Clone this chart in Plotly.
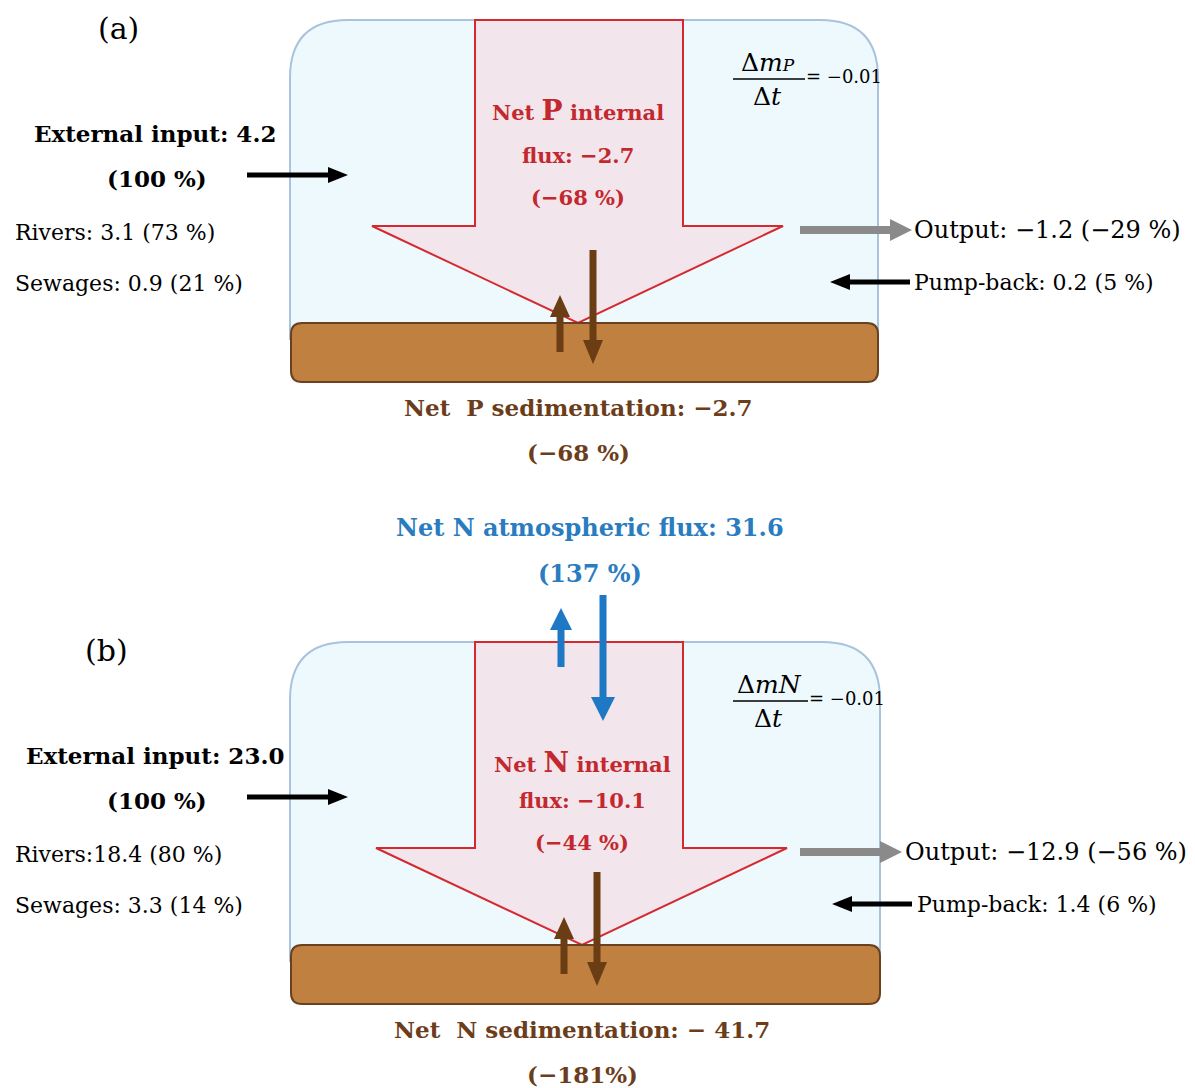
import math
import plotly.graph_objects as go

# ---------------- data ----------------
panels = ["(a)", "(b)"]
nutrients = ["P", "N"]
external_input = [4.2, 23.0]
external_pct = [100, 100]
rivers = [3.1, 18.4]
rivers_pct = [73, 80]
sewages = [0.9, 3.3]
sewages_pct = [21, 14]
output_flux = [-1.2, -12.9]
output_pct = [-29, -56]
pumpback = [0.2, 1.4]
pumpback_pct = [5, 6]
internal_flux = [-2.7, -10.1]
internal_pct = [-68, -44]
sedimentation = [-2.7, -41.7]
sedimentation_pct = [-68, -181]
storage_change = [-0.01, -0.01]
atmospheric_flux = [None, 31.6]
atmospheric_pct = [None, 137]

# ---------------- styles / layout ----------------
FONT = "DejaVu Serif"
WATER_FILL = "#eef9fd"
WATER_LINE = "#a9c3dc"
ARROW_FILL = "#f2e5eb"
ARROW_LINE = "#d42a2f"
RED_TXT = "#c3282e"
SED_FILL = "#c0803f"
SED_LINE = "#6a4120"
BROWN = "#6a3d14"
BROWN_TXT = "#6b3d1b"
BLUE = "#1f78c4"
BLUE_TXT = "#2a7cc0"
GREY = "#8a8a8a"

DY = [0, 622]          # vertical offset of each panel
TIP_X = [578, 582]
BOX_R = [878, 880]
OUT_ARROW = [(800, 912), (800, 902)]
OUT_TXT_X = [912, 903]
PUMP_ARROW = [(910, 830), (912, 832)]
PUMP_TXT_X = [912, 915]
FRAC_LINE = [(733, 805), (733, 808)]

RIVERS_SEP = [": ", ":"]
SED_MINUS_SEP = ["", " "]
SED_PCT_SEP = [" ", ""]

S_BOLD = 23      # bold headings
S_ATM = 24
S_SMALL = 22     # rivers / sewages
S_PUMP = 22
S_OUT = 24
S_RED = 21
S_RED_BIG = 28


def fmt(v, d=1, sep=""):
    return ("−" + sep if v < 0 else "") + f"{abs(v):.{d}f}"


def fpct(p):
    return ("−" if p < 0 else "") + str(abs(p))


def arrow_path(x0, y0, x1, y1, sw, hw, hl):
    dx, dy = x1 - x0, y1 - y0
    L = math.hypot(dx, dy)
    ux, uy = dx / L, dy / L
    px, py = -uy, ux
    bx, by = x1 - ux * hl, y1 - uy * hl
    pts = [
        (x0 + px * sw / 2, y0 + py * sw / 2),
        (bx + px * sw / 2, by + py * sw / 2),
        (bx + px * hw / 2, by + py * hw / 2),
        (x1, y1),
        (bx - px * hw / 2, by - py * hw / 2),
        (bx - px * sw / 2, by - py * sw / 2),
        (x0 - px * sw / 2, y0 - py * sw / 2),
    ]
    return "M " + " L ".join(f"{x:.1f},{y:.1f}" for x, y in pts) + " Z"


def round_top_box(x0, y0, x1, y1, r):
    return (f"M {x0},{y1} L {x0},{y0 + r} Q {x0},{y0} {x0 + r},{y0} "
            f"L {x1 - r},{y0} Q {x1},{y0} {x1},{y0 + r} L {x1},{y1}")


def round_rect(x0, y0, x1, y1, r):
    return (f"M {x0 + r},{y0} L {x1 - r},{y0} Q {x1},{y0} {x1},{y0 + r} "
            f"L {x1},{y1 - r} Q {x1},{y1} {x1 - r},{y1} L {x0 + r},{y1} "
            f"Q {x0},{y1} {x0},{y1 - r} L {x0},{y0 + r} Q {x0},{y0} {x0 + r},{y0} Z")


fig = go.Figure()
fig.add_trace(go.Scatter(x=[10, 1190], y=[10, 1080], mode="markers",
                         marker=dict(opacity=0), hoverinfo="skip"))

shapes = []
annotations = []


def ann(x, y, text, size, color="black", xanchor="center", yanchor="middle"):
    annotations.append(dict(x=x, y=y, xref="x", yref="y", text=text, showarrow=False,
                            xanchor=xanchor, yanchor=yanchor,
                            font=dict(family=FONT, size=size, color=color)))


for i in range(2):
    o = DY[i]
    n = nutrients[i]
    tx = TIP_X[i]
    # water column
    shapes.append(dict(type="path", path=round_top_box(290, 20 + o, BOX_R[i], 340 + o, 58),
                       fillcolor=WATER_FILL, line=dict(color=WATER_LINE, width=2)))
    # big internal flux arrow
    big = (f"M 475,{20 + o} L 683,{20 + o} L 683,{226 + o} L {tx + 205},{226 + o} "
           f"L {tx},{323 + o} L {tx - 206},{226 + o} L 475,{226 + o} Z")
    shapes.append(dict(type="path", path=big, fillcolor=ARROW_FILL,
                       line=dict(color=ARROW_LINE, width=2)))
    # sediment layer
    shapes.append(dict(type="path", path=round_rect(291, 323 + o, BOX_R[i], 382 + o, 11),
                       fillcolor=SED_FILL, line=dict(color=SED_LINE, width=2)))
    # sediment exchange arrows
    shapes.append(dict(type="path", path=arrow_path(tx - 18, 352 + o, tx - 18, 295 + o, 7, 20, 22),
                       fillcolor=BROWN, line=dict(width=0)))
    shapes.append(dict(type="path", path=arrow_path(tx + 15, 250 + o, tx + 15, 364 + o, 7, 20, 24),
                       fillcolor=BROWN, line=dict(width=0)))
    # external input arrow
    shapes.append(dict(type="path", path=arrow_path(247, 175 + o, 348, 175 + o, 5, 16, 20),
                       fillcolor="black", line=dict(width=0)))
    # output arrow
    ox0, ox1 = OUT_ARROW[i]
    shapes.append(dict(type="path", path=arrow_path(ox0, 230 + o, ox1, 230 + o, 8, 22, 22),
                       fillcolor=GREY, line=dict(width=0)))
    # pump-back arrow
    px0, px1 = PUMP_ARROW[i]
    shapes.append(dict(type="path", path=arrow_path(px0, 282 + o, px1, 282 + o, 5, 16, 20),
                       fillcolor="black", line=dict(width=0)))
    # fraction line
    fx0, fx1 = FRAC_LINE[i]
    shapes.append(dict(type="line", x0=fx0, x1=fx1, y0=79 + o, y1=79 + o,
                       line=dict(color="black", width=1.5)))

    # ---- texts ----
    ann(118 - 12 * i, 28 + o, panels[i], 30)
    ann(155, 133 + o, f"<b>External input: {fmt(external_input[i])}</b>", S_BOLD)
    ann(157, 178 + o, f"<b>({external_pct[i]} %)</b>", S_BOLD)
    ann(13, 232 + o, f"Rivers{RIVERS_SEP[i]}{fmt(rivers[i])} ({rivers_pct[i]} %)", S_SMALL, xanchor="left")
    ann(13, 283 + o, f"Sewages: {fmt(sewages[i])} ({sewages_pct[i]} %)", S_SMALL, xanchor="left")
    ann(OUT_TXT_X[i], 230 + o, f"Output: {fmt(output_flux[i])} ({fpct(output_pct[i])} %)", S_OUT, xanchor="left")
    ann(PUMP_TXT_X[i], 282 + o, f"Pump-back: {fmt(pumpback[i])} ({pumpback_pct[i]} %)", S_PUMP, xanchor="left")
    ann(tx, 110 + o + (0 if i == 0 else 30),
        f"<b>Net <span style='font-size:{S_RED_BIG}px'>{n}</span> internal</b>", S_RED, RED_TXT)
    ann(tx, 155 + o + (0 if i == 0 else 23), f"<b>flux: {fmt(internal_flux[i])}</b>", S_RED, RED_TXT)
    ann(tx, 197 + o + (0 if i == 0 else 23), f"<b>({fpct(internal_pct[i])} %)</b>", S_RED, RED_TXT)
    ann(tx, 407 + o, f"<b>Net  {n} sedimentation: {fmt(sedimentation[i], sep=SED_MINUS_SEP[i])}</b>",
        S_BOLD, BROWN_TXT)
    ann(tx, 452 + o, f"<b>({fpct(sedimentation_pct[i])}{SED_PCT_SEP[i]}%)</b>", S_BOLD, BROWN_TXT)
    # storage change fraction
    num = (f"Δ<i>m</i><span style='font-size:17px'><i>{n}</i></span>" if i == 0
           else "Δ<i>mN</i>")
    ann((fx0 + fx1) / 2 - 1, 62 + o, num, 25)
    ann((fx0 + fx1) / 2 - 2, 96 + o, "Δ<i>t</i>", 25)
    ann(fx1 - 1, 76 + o, f"= {fmt(storage_change[i], d=2)}", 18, xanchor="left")

    if atmospheric_flux[i] is not None:
        ann(590, 527 + o - 622, f"<b>Net N atmospheric flux: {fmt(atmospheric_flux[i])}</b>", S_ATM, BLUE_TXT)
        ann(590, 573 + o - 622, f"<b>({atmospheric_pct[i]} %)</b>", S_ATM, BLUE_TXT)
        shapes.append(dict(type="path", path=arrow_path(561, 667, 561, 608, 7, 22, 22),
                           fillcolor=BLUE, line=dict(width=0)))
        shapes.append(dict(type="path", path=arrow_path(603, 595, 603, 721, 7, 24, 24),
                           fillcolor=BLUE, line=dict(width=0)))

# the page body has an 8 px margin; axis ranges start at 8 so that
# diagram coordinates coincide with window pixels
fig.update_layout(
    width=1187, height=1080,
    margin=dict(l=0, r=0, t=0, b=0),
    paper_bgcolor="white", plot_bgcolor="white",
    xaxis=dict(range=[8, 1195], visible=False, fixedrange=True),
    yaxis=dict(range=[1088, 8], visible=False, fixedrange=True),
    showlegend=False,
    shapes=shapes,
    annotations=annotations,
)

fig.write_html("out.html")
